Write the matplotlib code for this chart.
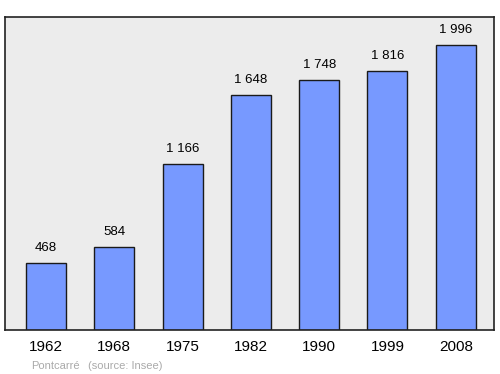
import matplotlib

matplotlib.use("Agg")
import matplotlib.pyplot as plt

years = ["1962", "1968", "1975", "1982", "1990", "1999", "2008"]
population = [468, 584, 1166, 1648, 1748, 1816, 1996]
value_labels = ["468", "584", "1 166", "1 648", "1 748", "1 816", "1 996"]

plt.rcParams["font.family"] = ["Liberation Sans", "DejaVu Sans"]

fig = plt.figure(figsize=(5, 3.74), dpi=100)
ax = fig.add_axes([0.01, 0.1176, 0.978, 0.837])
ax.set_facecolor("#ececec")

x = range(len(years))
ax.bar(x, population, width=0.585, color="#7799ff", edgecolor="#1a1a1a", linewidth=1)

for i, (v, lab) in enumerate(zip(population, value_labels)):
    ax.annotate(lab, (i, v), xytext=(0, 15), textcoords="offset pixels",
                ha="center", va="center", fontsize=9.5)

ax.set_xlim(-0.6, 6.56)
ax.set_ylim(0, 2192)
ax.set_xticks(list(x))
ax.set_xticklabels(years, fontsize=11)
ax.tick_params(axis="x", length=0, pad=7)
ax.set_yticks([])

for s in ax.spines.values():
    s.set_color("#222222")
    s.set_linewidth(1.2)

fig.text(0.062, 0.014, "Pontcarré", color="#aaaaaa", fontsize=8, ha="left")
fig.text(0.175, 0.014, "(source: Insee)", color="#aaaaaa", fontsize=8, ha="left")

fig.savefig("out.png", dpi=100, facecolor="white")
